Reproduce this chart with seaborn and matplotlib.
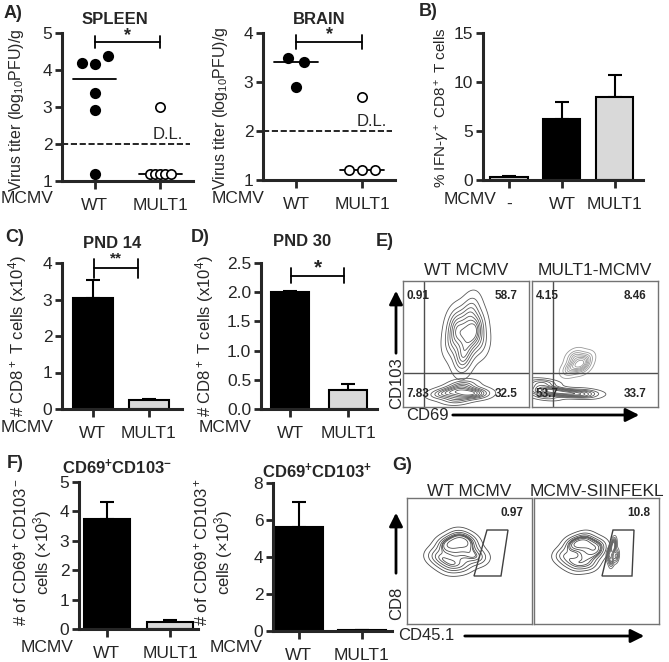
import numpy as np
import pandas as pd
import matplotlib
matplotlib.use("Agg")
import matplotlib.pyplot as plt
import seaborn as sns

# --- data ---
spleen_wt = [4.2, 4.15, 4.38, 3.37, 2.92, 1.2]
spleen_mult1 = [3.0, 1.2, 1.2, 1.2, 1.2, 1.2]
brain_wt = [3.5, 3.4, 2.9]
brain_mult1 = [2.7, 1.2, 1.2, 1.2]
detection_limit = 2.0

ifn_groups = ["-", "WT", "MULT1"]
ifn_mean = [0.3, 6.2, 8.5]
ifn_sem = [0.1, 1.8, 2.2]

virus_groups = ["WT", "MULT1"]
pnd14_mean = [3.05, 0.25]
pnd14_sem = [0.48, 0.03]
pnd30_mean = [2.0, 0.33]
pnd30_sem = [0.02, 0.09]
cd103neg_mean = [3.73, 0.25]
cd103neg_sem = [0.6, 0.05]
cd103pos_mean = [5.6, 0.05]
cd103pos_sem = [1.4, 0.0]

# flow quadrant percentages: UL, UR, LL, LR
wt_quadrants = [0.91, 58.7, 7.83, 32.5]
mult1_quadrants = [4.15, 8.46, 53.7, 33.7]
siinfekl_gate = [0.97, 10.8]

# representative events (axis fraction units)
e_wt_hi_x = [0.38, 0.45, 0.5, 0.55, 0.62, 0.42, 0.5, 0.58, 0.45, 0.52, 0.55, 0.48, 0.4, 0.6]
e_wt_hi_y = [0.5, 0.55, 0.6, 0.55, 0.5, 0.7, 0.72, 0.68, 0.4, 0.45, 0.8, 0.35, 0.62, 0.62]
e_wt_lo_x = [0.3, 0.38, 0.45, 0.5, 0.55, 0.42, 0.48, 0.6]
e_wt_lo_y = [0.1, 0.12, 0.14, 0.1, 0.12, 0.06, 0.18, 0.1]
e_m_x = [0.04, 0.08, 0.12, 0.1, 0.15, 0.2, 0.25, 0.3, 0.35, 0.4, 0.1, 0.06, 0.45]
e_m_y = [0.12, 0.15, 0.12, 0.08, 0.14, 0.12, 0.1, 0.12, 0.1, 0.1, 0.2, 0.18, 0.12]
e_m_minor_x = [0.3, 0.36, 0.42, 0.34, 0.4]
e_m_minor_y = [0.3, 0.34, 0.38, 0.4, 0.32]
g_wt_x = [0.22, 0.28, 0.35, 0.4, 0.45, 0.52, 0.58, 0.35, 0.45, 0.4, 0.3, 0.5]
g_wt_y = [0.55, 0.5, 0.62, 0.55, 0.66, 0.56, 0.52, 0.45, 0.46, 0.7, 0.64, 0.64]
g_s_x = [0.22, 0.28, 0.35, 0.4, 0.45, 0.5, 0.35, 0.45, 0.4, 0.3, 0.52]
g_s_y = [0.55, 0.5, 0.62, 0.55, 0.64, 0.56, 0.46, 0.47, 0.68, 0.64, 0.62]
g_s_minor_x = [0.6, 0.63, 0.66, 0.62, 0.64]
g_s_minor_y = [0.55, 0.6, 0.54, 0.5, 0.64]
gate_wt = [(0.536, 0.381), (0.64, 0.746), (0.808, 0.746), (0.752, 0.381)]
gate_s = [(0.544, 0.381), (0.632, 0.746), (0.80, 0.746), (0.784, 0.381)]

LIGHT = "#d9d9d9"
W, H = 669, 662

sns.set_style("ticks")
plt.rcParams["font.family"] = ["Liberation Sans", "DejaVu Sans"]
plt.rcParams["mathtext.fontset"] = "custom"
plt.rcParams["mathtext.rm"] = "Liberation Sans"
plt.rcParams["mathtext.it"] = "Liberation Sans:italic"
plt.rcParams["mathtext.bf"] = "Liberation Sans:bold"

fig = plt.figure(figsize=(W / 100, H / 100), dpi=100)


def box(l, t, r, b):
    return fig.add_axes([l / W, 1 - b / H, (r - l) / W, (b - t) / H])


def ftext(x, y, s, **kw):
    kw.setdefault("ha", "center")
    kw.setdefault("va", "center")
    fig.text(x / W, 1 - y / H, s, **kw)


def farrow(x0, y0, x1, y1):
    fig.add_artist(matplotlib.patches.FancyArrowPatch(
        (x0 / W, 1 - y0 / H), (x1 / W, 1 - y1 / H), transform=fig.transFigure,
        arrowstyle="-|>", mutation_scale=20, lw=2, color="black"))


def style_axis(ax):
    sns.despine(ax=ax)
    for s in ["left", "bottom"]:
        ax.spines[s].set_linewidth(2.2)
    ax.tick_params(width=2, length=5, labelsize=12.5, pad=2)
    ax.tick_params(axis="x", length=6, pad=6)
    ax.set_xlabel("")
    ax.set_ylabel("")


def dot_positions(vals, center, step, tol=0.3):
    vals = np.asarray(vals, dtype=float)
    xs = np.full(len(vals), float(center))
    order = np.argsort(vals, kind="stable")
    clusters, cur = [], [order[0]]
    for i in order[1:]:
        if vals[i] - vals[cur[-1]] > tol:
            clusters.append(cur)
            cur = [i]
        else:
            cur.append(i)
    clusters.append(cur)
    for c in clusters:
        c = sorted(c)
        offs = (np.arange(len(c)) - (len(c) - 1) / 2) * step
        xs[c] += offs
    return xs


def bracket(ax, x0, x1, y, h, label, ly, size=13):
    ax.plot([x0, x1], [y, y], color="black", lw=1.3, clip_on=False)
    for x in (x0, x1):
        ax.plot([x, x], [y - h, y + h], color="black", lw=1.3, clip_on=False)
    ax.text((x0 + x1) / 2, ly, label, ha="center", va="center", fontsize=size,
            fontweight="bold")


def dot_panel(ax, wt, mult1, steps, ylim):
    xw = dot_positions(wt, 0, steps[0])
    xm = dot_positions(mult1, 1, steps[1])
    sns.scatterplot(x=xw, y=wt, ax=ax, color="black", s=65, linewidth=0,
                    zorder=3, clip_on=False)
    sns.scatterplot(x=xm, y=mult1, ax=ax, color="white", edgecolor="black",
                    s=45, linewidth=1.2, zorder=3, clip_on=False)
    for x, v in ((0, wt), (1, mult1)):
        ax.plot([x - 0.33, x + 0.33], [np.median(v)] * 2, color="black", lw=1.3)
    ax.axhline(detection_limit, color="black", ls="--", lw=1.2, xmax=0.98)
    ax.set_xlim(-0.5, 1.5)
    ax.set_ylim(*ylim)
    ax.set_xticks([0, 1], virus_groups)
    ax.set_yticks(range(int(ylim[0]), int(ylim[1]) + 1))
    style_axis(ax)


def bar_panel(ax, groups, means, sems, colors, width, xlim, yticks):
    df = pd.DataFrame({"group": groups, "value": means})
    sns.barplot(data=df, x="group", y="value", hue="group", palette=colors,
                width=width, edgecolor="black", linewidth=1.5, errorbar=None,
                legend=False, ax=ax, zorder=2)
    ax.errorbar(range(len(groups)), means, yerr=[np.zeros(len(sems)), sems],
                fmt="none", ecolor="black", elinewidth=1.5, capsize=5,
                capthick=1.5, zorder=1)
    ax.set_xlim(*xlim)
    ax.set_ylim(yticks[0], yticks[-1])
    ax.set_yticks(yticks)
    style_axis(ax)


def contours(ax, x, y, bw=1.0, color="0.35", thresh=0.05):
    sns.kdeplot(x=x, y=y, ax=ax, levels=9, thresh=thresh, color=color,
                linewidths=0.6, bw_adjust=bw)


# ---- A ----
ax = box(62, 33, 193, 181)
dot_panel(ax, spleen_wt, spleen_mult1, (0.2, 0.08), (1, 5))
ax.text(1.12, detection_limit + 0.05, "D.L.", ha="center", va="bottom", fontsize=12)
bracket(ax, 0, 1, 4.76, 0.17, "*", 4.92)
ftext(115, 19, "SPLEEN", fontsize=12, fontweight="bold")
ftext(17, 110, "Virus titer (log$_{10}$PFU)/g", rotation=90, fontsize=11.5)
ftext(27, 198, "MCMV", fontsize=12.5)
ftext(13, 13, "A)", fontsize=13, fontweight="bold")

ax = box(263, 33, 395, 180)
dot_panel(ax, brain_wt, brain_mult1, (0.23, 0.2), (1, 4))
ax.text(1.15, detection_limit + 0.05, "D.L.", ha="center", va="bottom", fontsize=12)
bracket(ax, 0, 1, 3.82, 0.14, "*", 3.97)
ftext(319, 20, "BRAIN", fontsize=12, fontweight="bold")
ftext(221, 108, "Virus titer (log$_{10}$PFU)/g", rotation=90, fontsize=11.5)
ftext(238, 198, "MCMV", fontsize=12.5)

# ---- B ----
ax = box(483, 33, 643, 180)
bar_panel(ax, ifn_groups, ifn_mean, ifn_sem, [LIGHT, "black", LIGHT], 0.7,
          (-0.49, 2.53), [0, 5, 10, 15])
ftext(442, 108, "% IFN-$\\gamma^+$ CD8$^+$ T cells", rotation=90, fontsize=11)
ftext(470, 200, "MCMV", fontsize=12.5)
ftext(428, 12, "B)", fontsize=13, fontweight="bold")

# ---- C ----
ax = box(62, 263, 182, 409)
bar_panel(ax, virus_groups, pnd14_mean, pnd14_sem, ["black", LIGHT], 0.71,
          (-0.55, 1.59), [0, 1, 2, 3, 4])
bracket(ax, 0.02, 0.8, 3.86, 0.26, "**", 4.12, size=11)
ftext(112, 244, "PND 14", fontsize=12, fontweight="bold")
ftext(18, 336, "# CD8$^+$ T cells (x10$^4$)", rotation=90, fontsize=12)
ftext(27, 428, "MCMV", fontsize=12.5)
ftext(15, 238, "C)", fontsize=13, fontweight="bold")

# ---- D ----
ax = box(261, 263, 377, 409)
bar_panel(ax, virus_groups, pnd30_mean, pnd30_sem, ["black", LIGHT], 0.67,
          (-0.5, 1.5), [0, 0.5, 1.0, 1.5, 2.0, 2.5])
ax.set_yticklabels([f"{t:.1f}" for t in [0, 0.5, 1.0, 1.5, 2.0, 2.5]])
bracket(ax, 0.02, 0.93, 2.28, 0.13, "*", 2.42, size=15)
ftext(302, 241, "PND 30", fontsize=12, fontweight="bold")
ftext(205, 336, "# CD8$^+$ T cells (x10$^4$)", rotation=90, fontsize=12)
ftext(225, 428, "MCMV", fontsize=12.5)
ftext(200, 238, "D)", fontsize=13, fontweight="bold")

# ---- E ----
def flow_box(l, t, r, b):
    ax = box(l, t, r, b)
    for s in ax.spines.values():
        s.set_color("0.45")
        s.set_linewidth(1.0)
    return ax


def finish_flow(ax):
    ax.set_xlim(0, 1)
    ax.set_ylim(0, 1)
    ax.set_xticks([])
    ax.set_yticks([])


ax = flow_box(403, 281, 529, 407)
contours(ax, e_wt_hi_x, e_wt_hi_y, bw=1.0)
contours(ax, e_wt_lo_x, e_wt_lo_y, bw=1.1)
finish_flow(ax)
ax2 = flow_box(532, 281, 658, 407)
contours(ax2, e_m_x, e_m_y, bw=0.9)
contours(ax2, e_m_minor_x, e_m_minor_y, bw=1.2, color="0.6")
finish_flow(ax2)
for a, pct, title, (l, r) in ((ax, wt_quadrants, "WT MCMV", (403, 529)),
                              (ax2, mult1_quadrants, "MULT1-MCMV", (532, 658))):
    a.axvline(0.17, color="0.3", lw=1)
    a.axhline(0.27, color="0.3", lw=1)
    for (x, y), v in zip([(0.03, 0.88), (0.82, 0.88), (0.03, 0.1), (0.82, 0.1)], pct):
        a.text(x, y, f"{v:g}", fontsize=8.5, fontweight="bold",
               ha="left" if x < 0.5 else "center", va="center")
    ftext((l + r) / 2, 270, title, fontsize=12.5)

farrow(396, 356, 396, 288)
ftext(397, 383, "CD103", rotation=90, fontsize=12)
ftext(427, 415, "CD69", fontsize=12)
farrow(450, 415, 642, 415)
ftext(385, 242, "E)", fontsize=13, fontweight="bold")

# ---- F ----
ax = box(79, 482, 198, 629)
bar_panel(ax, virus_groups, cd103neg_mean, cd103neg_sem, ["black", LIGHT], 0.72,
          (-0.44, 1.44), [0, 1, 2, 3, 4, 5])
ftext(117, 467, "CD69$^{\\mathbf{+}}$CD103$^{\\mathbf{-}}$", fontsize=12, fontweight="bold")
ftext(33, 552, "# of CD69$^+$CD103$^-$\ncells ($\\times$10$^3$)", rotation=90,
      fontsize=12, linespacing=1.1)
ftext(47, 648, "MCMV", fontsize=12.5)
ftext(15, 463, "F)", fontsize=13, fontweight="bold")

ax = box(273, 483, 392, 631)
bar_panel(ax, virus_groups, cd103pos_mean, cd103pos_sem, ["black", LIGHT], 0.76,
          (-0.41, 1.48), [0, 2, 4, 6, 8])
ftext(317, 471, "CD69$^{\\mathbf{+}}$CD103$^{\\mathbf{+}}$", fontsize=12, fontweight="bold")
ftext(214, 552, "# of CD69$^+$CD103$^+$\ncells ($\\times$10$^3$)", rotation=90,
      fontsize=12, linespacing=1.1)
ftext(236, 648, "MCMV", fontsize=12.5)

# ---- G ----
ax = flow_box(407, 498, 532, 624)
contours(ax, g_wt_x, g_wt_y, bw=0.9, color="0.3", thresh=0.08)
finish_flow(ax)
ax2 = flow_box(534, 498, 659, 624)
contours(ax2, g_s_x, g_s_y, bw=0.9, color="0.3", thresh=0.08)
contours(ax2, g_s_minor_x, g_s_minor_y, bw=0.9, color="0.4", thresh=0.1)
finish_flow(ax2)
for a, gate, pct, title, (l, r) in ((ax, gate_wt, siinfekl_gate[0], "WT MCMV", (407, 532)),
                                    (ax2, gate_s, siinfekl_gate[1], "MCMV-SIINFEKL", (534, 659))):
    a.add_patch(matplotlib.patches.Polygon(gate, closed=True, fill=False,
                                           edgecolor="0.25", lw=1))
    a.text(0.93, 0.88, f"{pct:g}", fontsize=8.5, fontweight="bold",
           ha="right", va="center")
    ftext((l + r) / 2, 491, title, fontsize=12.5)

farrow(396, 576, 396, 510)
ftext(397, 603, "CD8", rotation=90, fontsize=12)
ftext(426, 636, "CD45.1", fontsize=12)
farrow(462, 636, 647, 636)
ftext(402, 466, "G)", fontsize=13, fontweight="bold")

fig.savefig("out.png", dpi=100)
